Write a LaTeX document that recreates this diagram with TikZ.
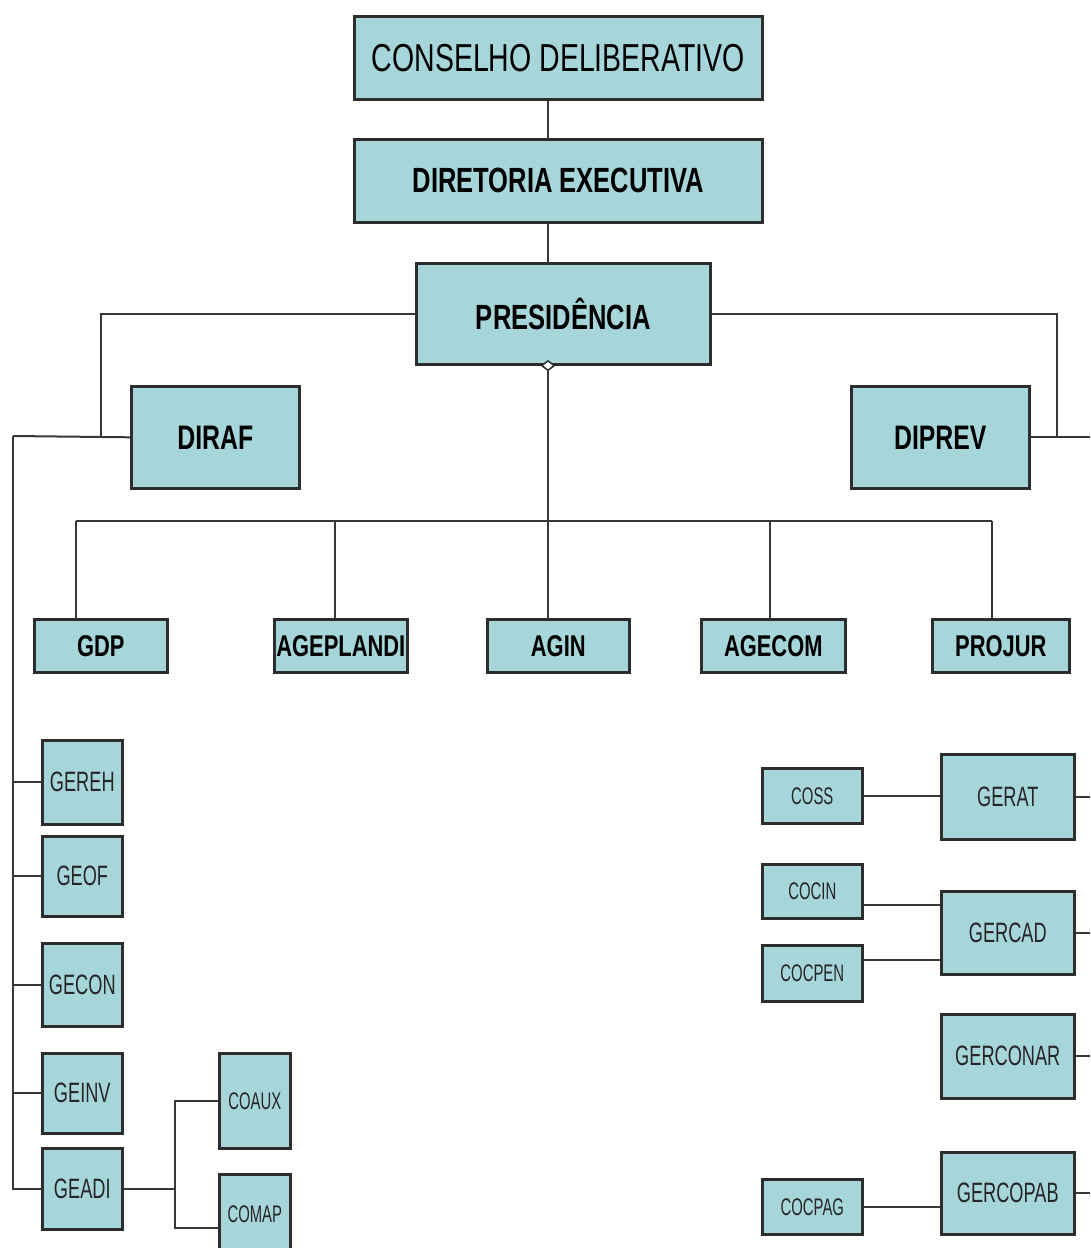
\documentclass[tikz,border=0pt]{standalone}
\usepackage{fontspec}
\usetikzlibrary{shapes.geometric}
\newfontfamily\fBig[FakeStretch=0.73]{Liberation Sans}
\newfontfamily\fGer[FakeStretch=0.65]{Liberation Sans}
\newfontfamily\fCo[FakeStretch=0.62]{Liberation Sans}
\definecolor{boxfill}{RGB}{166,213,218}
\definecolor{edgec}{RGB}{45,45,45}
\definecolor{wirec}{RGB}{55,55,55}
\begin{document}
\begin{tikzpicture}[x=1pt,y=-1pt,
  box/.style={draw=edgec, line width=2.6pt, fill=boxfill, inner sep=0pt, anchor=north west, text=black},
  wire/.style={draw=wirec, line width=2pt},
  tTop/.style={font=\fBig\fontsize{39}{40}\selectfont},
  tMain/.style={font=\fBig\bfseries\fontsize{35}{36}\selectfont},
  tDir/.style={font=\fBig\bfseries\fontsize{34}{35}\selectfont},
  tSec/.style={font=\fBig\bfseries\fontsize{30}{31}\selectfont},
  tGer/.style={font=\fGer\fontsize{28}{29}\selectfont, text=black!85},
  tCo/.style={font=\fCo\fontsize{24}{25}\selectfont, text=black!85}]
\useasboundingbox (0,0) rectangle (1090,1248);
\clip (0,0) rectangle (1090,1248);
\fill[white] (0,0) rectangle (1090,1248);

% named coordinates
\coordinate (spine) at (548,0);
\coordinate (jl) at (101,436);
\coordinate (lft) at (13,436);
\coordinate (jr) at (1057,436);
\coordinate (redge) at (1090,0);
\coordinate (t1) at (76,521);
\coordinate (t2) at (335,521);
\coordinate (t3) at (548,521);
\coordinate (t4) at (770,521);
\coordinate (t5) at (992,521);
\coordinate (sub) at (175,0);

% boxes
\node[box, tTop, minimum width=408pt, minimum height=83pt] (cons) at (353,15) {CONSELHO DELIBERATIVO};
\node[box, tMain, minimum width=408pt, minimum height=83pt] (dire) at (353,138) {DIRETORIA EXECUTIVA};
\node[box, tMain, minimum width=294pt, minimum height=101pt] (pres) at (415,262) {PRESIDÊNCIA};
\node[box, tDir, minimum width=168pt, minimum height=102pt] (diraf) at (130,385) {DIRAF};
\node[box, tDir, minimum width=178pt, minimum height=102pt] (diprev) at (850,385) {DIPREV};

\node[box, tSec, minimum width=133pt, minimum height=53pt] (gdp) at (33,618) {GDP};
\node[box, tSec, minimum width=133pt, minimum height=53pt] (agep) at (273,618) {AGEPLANDI};
\node[box, tSec, minimum width=142pt, minimum height=53pt] (agin) at (486,618) {AGIN};
\node[box, tSec, minimum width=144pt, minimum height=53pt] (agecom) at (700,618) {AGECOM};
\node[box, tSec, minimum width=137pt, minimum height=53pt] (projur) at (931,618) {PROJUR};

\node[box, tGer, minimum width=80pt, minimum height=84pt] (gereh) at (41,739) {GEREH};
\node[box, tGer, minimum width=80pt, minimum height=80pt] (geof) at (41,835) {GEOF};
\node[box, tGer, minimum width=80pt, minimum height=83pt] (gecon) at (41,942) {GECON};
\node[box, tGer, minimum width=80pt, minimum height=80pt] (geinv) at (41,1052) {GEINV};
\node[box, tGer, minimum width=80pt, minimum height=81pt] (geadi) at (41,1147) {GEADI};
\node[box, tCo, minimum width=71pt, minimum height=95pt] (coaux) at (218,1052) {COAUX};
\node[box, tCo, minimum width=71pt, minimum height=80pt] (comap) at (218,1173) {COMAP};

\node[box, tCo, minimum width=100pt, minimum height=55pt] (coss) at (761,767) {COSS};
\node[box, tGer, minimum width=133pt, minimum height=85pt] (gerat) at (940,753) {GERAT};
\node[box, tCo, minimum width=100pt, minimum height=54pt] (cocin) at (761,863) {COCIN};
\node[box, tGer, minimum width=133pt, minimum height=83pt] (gercad) at (940,890) {GERCAD};
\node[box, tCo, minimum width=100pt, minimum height=56pt] (cocpen) at (761,944) {COCPEN};
\node[box, tGer, minimum width=133pt, minimum height=84pt] (gerconar) at (940,1013) {GERCONAR};
\node[box, tCo, minimum width=100pt, minimum height=55pt] (cocpag) at (761,1178) {COCPAG};
\node[box, tGer, minimum width=133pt, minimum height=82pt] (gercopab) at (940,1151) {GERCOPAB};

% connectors top
\draw[wire] (cons.south -| spine) -- (dire.north -| spine);
\draw[wire] (dire.south -| spine) -- (pres.north -| spine);
\draw[wire] (pres.west) -| (jl);
\draw[wire] (pres.east) -| (jr);
\draw[wire] (diraf.west) -- (lft);
\draw[wire] (diprev.east) -- (diprev.east -| redge);

% bus
\node[diamond, draw=edgec, line width=1.5pt, fill=white, minimum width=13pt, minimum height=10pt, inner sep=0pt] (dm) at (pres.south -| spine) {};
\draw[wire] (dm.south) -- (t3);
\draw[wire] (t1) -- (t5);
\draw[wire] (t1) -- (t1 |- gdp.north);
\draw[wire] (t2) -- (t2 |- agep.north);
\draw[wire] (t3) -- (t3 |- agin.north);
\draw[wire] (t4) -- (t4 |- agecom.north);
\draw[wire] (t5) -- (t5 |- projur.north);

% left column
\draw[wire] (lft) |- (geadi.west);
\draw[wire] (gereh.west) -- (gereh.west -| lft);
\draw[wire] (geof.west) -- (geof.west -| lft);
\draw[wire] (gecon.west) -- (gecon.west -| lft);
\draw[wire] (geinv.west) -- (geinv.west -| lft);
\draw[wire] (geadi.east) -- (geadi.east -| sub);
\draw[wire] (coaux.west) -| (geadi.east -| sub);
\draw[wire] ([yshift=-14pt]comap.west) -| (geadi.east -| sub);

% right column
\draw[wire] (coss.east) -- (coss.east -| gerat.west);
\draw[wire] ([yshift=-14pt]cocin.east) -- ([yshift=-14pt]cocin.east -| gercad.west);
\draw[wire] ([yshift=13pt]cocpen.east) -- ([yshift=13pt]cocpen.east -| gercad.west);
\draw[wire] (cocpag.east) -- (cocpag.east -| gercopab.west);
\draw[wire] (gerat.east) -- (gerat.east -| redge);
\draw[wire] (gercad.east) -- (gercad.east -| redge);
\draw[wire] (gerconar.east) -- (gerconar.east -| redge);
\draw[wire] (gercopab.east) -- (gercopab.east -| redge);
\end{tikzpicture}
\end{document}
